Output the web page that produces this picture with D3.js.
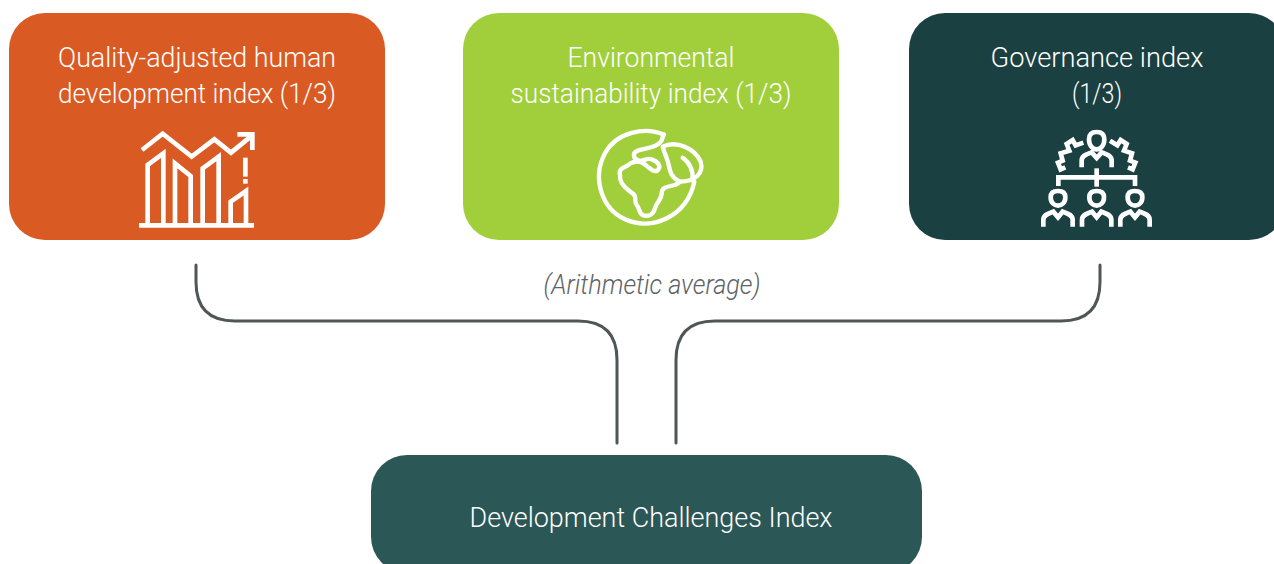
<!DOCTYPE html>
<html><head><meta charset="utf-8">
<script src="https://cdn.jsdelivr.net/npm/d3@7"></script>
<style>html,body{margin:0;padding:0;background:#fff;overflow:hidden}svg{display:block}
text{font-family:Roboto,sans-serif;font-weight:300}</style></head>
<body><div id="c"></div>
<script>
const W=1274,H=564;
const componentNames=[["Quality-adjusted human","development index (1/3)"],["Environmental","sustainability index (1/3)"],["Governance index","(1/3)"]];
const componentLeft=[9,463,909];
const componentWidth=[376,376,376];
const componentColors=["#da5a24","#a1cf3c","#1b4041"];
const lineWidths=[[278,278],[167,281],[213,50]];
const resultName="Development Challenges Index";
const noteText="(Arithmetic average)";
const svg=d3.select("#c").append("svg").attr("width",W).attr("height",H);

function label(g,str,cx,y,w,size,fill,italic){
  const t=g.append("text").attr("x",cx).attr("y",y).attr("text-anchor","middle")
   .attr("font-size",size).attr("fill",fill).text(str);
  if(italic)t.attr("font-style","italic");
  if(w)t.attr("textLength",w).attr("lengthAdjust","spacingAndGlyphs");
  return t;
}
// connectors
const conn=["M196,265 V282 Q196,321 235,321 H578 Q617,321 617,360 V443",
            "M1100,265 V282 Q1100,321 1061,321 H715 Q676,321 676,360 V443"];
svg.selectAll("path.conn").data(conn).join("path").attr("class","conn").attr("d",d=>d)
  .attr("fill","none").attr("stroke","#4f5658").attr("stroke-width",3).attr("stroke-linecap","round");

componentNames.forEach((lines,i)=>{
  const g=svg.append("g");
  g.append("rect").attr("x",componentLeft[i]).attr("y",13).attr("width",componentWidth[i]).attr("height",227).attr("rx",36).attr("fill",componentColors[i]);
  const cx=[197,651,1097][i];
  lines.forEach((s,k)=>label(g,s,cx,67+k*36,lineWidths[i][k],27,"#fff"));
});
label(svg,noteText,652,294,217,27,"#5d6366",true);
svg.append("rect").attr("x",371).attr("y",455).attr("width",551).attr("height",118).attr("rx",36).attr("fill","#2c5757");
label(svg,resultName,651,527,363,27,"#fff");

// icons, drawn in 3x crop units
function icon(x,y,paths,sw){
  const g=svg.append("g").attr("transform",`translate(${x},${y}) scale(${1/3})`)
   .attr("fill","none").attr("stroke","#fff").attr("stroke-width",sw);
  paths.forEach(d=>g.append("path").attr("d",d));
  return g;
}
icon(120,120,[
 "M66,90 L128,41 L215,110 L283,58 L333,98 L392,50",
 "M352,43 H397 V90",
 "M57,316 H402",
 "M83,310 V135 L130,100 V310",
 "M165,310 V130 L212,168 V310",
 "M248,310 V145 L296,110 V310",
 "M332,310 V245 L378,213 V310",
 "M376,113 V170","M376,177 V191"
],14).attr("stroke-linejoin","miter");
icon(580,120,[
 "M252,44 C195,20 110,35 75,100 C35,175 65,265 135,298 C215,335 320,290 343,185",
 "M252,44 C245,50 250,60 240,68 C225,85 190,85 172,92 C155,100 160,118 178,122 C190,125 200,112 215,118 C235,125 245,140 232,152 C215,160 200,130 178,125 C165,125 155,125 145,135 C130,145 115,145 120,165 C118,195 145,210 160,222 C172,232 160,240 170,255 C180,265 175,280 190,286 C205,290 220,285 225,265 C230,245 245,240 245,220 C245,200 265,200 285,195 C295,190 300,185 300,185",
 "M248,80 C290,60 345,85 362,125 C372,160 345,185 300,185 C265,170 270,140 262,120 C255,100 250,90 248,80 Z",
 "M308,113 C330,128 340,150 338,182"
],13).attr("stroke-linecap","round").attr("stroke-linejoin","round");
const person=(cx,hy,hr,hh,sy,sw)=>[
 `M${cx-hr},${hy+hh*.42} C${cx-hr},${hy+hh*.1} ${cx-hr*.6},${hy} ${cx},${hy} C${cx+hr*.6},${hy} ${cx+hr},${hy+hh*.1} ${cx+hr},${hy+hh*.42} C${cx+hr},${hy+hh*.8} ${cx+hr*.5},${hy+hh} ${cx},${hy+hh} C${cx-hr*.5},${hy+hh} ${cx-hr},${hy+hh*.8} ${cx-hr},${hy+hh*.42} Z`,
 `M${cx-sw},${sy+45} V${sy+25} C${cx-sw},${sy+8} ${cx-sw+18},${sy+5} ${cx-sw+30},${sy} L${cx},${sy+17} L${cx+sw-30},${sy} C${cx+sw-18},${sy+5} ${cx+sw},${sy+8} ${cx+sw},${sy+25} V${sy+45}`
];
icon(1030,120,[
 ...person(200,36,23,52,97,45),
 "M160,68 L137,76 L128,60 L110,72 L118,92 L92,100 L98,122 L84,128 L92,148 L106,142",
 "M240,62 L262,76 L272,60 L290,72 L282,92 L306,100 L300,122 L316,128 L308,148 L294,142",
 "M200,145 V200",
 "M85,198 V172 H315 V198",
 ...person(84,213,22,44,275,44),
 ...person(200,213,22,44,275,44),
 ...person(315,213,22,44,275,44)
],14);
</script></body></html>
